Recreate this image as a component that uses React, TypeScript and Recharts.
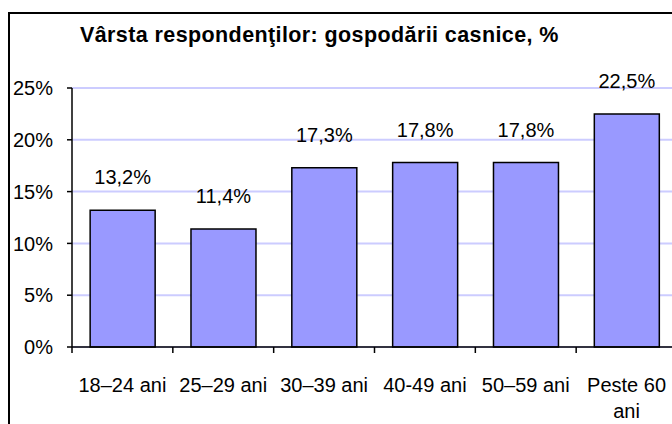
import React from "react";
import { BarChart, Bar, XAxis, YAxis, CartesianGrid, LabelList } from "recharts";

const categories = ["18–24 ani", "25–29 ani", "30–39 ani", "40-49 ani", "50–59 ani", "Peste 60 ani"];
const shares = [13.2, 11.4, 17.3, 17.8, 17.8, 22.5];
const yTicks = [0, 5, 10, 15, 20, 25];
const title = "Vârsta respondenţilor: gospodării casnice, %";

const data = categories.map((name, i) => ({ name, value: shares[i] }));

const CHART_W = 720;
const CHART_H = 440;
const MARGIN = { top: 88, right: 43, left: 0, bottom: 23 };
const Y_W = 72;
const X_H = 70;
const X_TICK_GAP = 30;
const FONT = "'Liberation Sans', Arial, sans-serif";
const MAX_CHARS = 10;

const band = (CHART_W - MARGIN.left - Y_W - MARGIN.right) / categories.length;

// long labels break before their last word, like the original
function splitLabel(s: string): string[] {
  if (s.length <= MAX_CHARS) return [s];
  const cut = s.lastIndexOf(" ");
  return [s.slice(0, cut), s.slice(cut + 1)];
}

function CategoryTick(props: any) {
  const { x, y, payload, index } = props;
  const axisY = y - X_TICK_GAP;
  const left = x - band / 2;
  const right = x + band / 2;
  const lines = splitLabel(String(payload.value));
  return (
    <g>
      <line x1={left} x2={left} y1={axisY} y2={axisY + 6} stroke="#000" strokeWidth={1.5} />
      {index === categories.length - 1 && (
        <line x1={right} x2={right} y1={axisY} y2={axisY + 6} stroke="#000" strokeWidth={1.5} />
      )}
      <text x={x} y={y} textAnchor="middle" fontSize={20} fontFamily={FONT} fill="#000">
        {lines.map((l, i) => (
          <tspan key={i} x={x} dy={i === 0 ? 15 : 26}>
            {l}
          </tspan>
        ))}
      </text>
    </g>
  );
}

export default function App() {
  return (
    <div
      style={{
        position: "fixed",
        left: 0,
        top: 0,
        width: 672,
        height: 424,
        overflow: "hidden",
        background: "#fff",
        fontFamily: FONT,
      }}
    >
      <div
        style={{
          position: "absolute",
          left: 8,
          top: 12,
          width: 800,
          height: 600,
          borderLeft: "2px solid #000",
          borderTop: "2px solid #000",
        }}
      />
      <div
        style={{
          position: "absolute",
          left: 80,
          top: 24,
          fontSize: 21.5,
          lineHeight: "22px",
          fontWeight: 700,
          letterSpacing: 0.4,
          whiteSpace: "nowrap",
          color: "#000",
        }}
      >
        {title}
      </div>
      <div style={{ position: "absolute", left: 0, top: 0 }}>
        <BarChart width={CHART_W} height={CHART_H} data={data} margin={MARGIN} barCategoryGap="18%">
          <CartesianGrid vertical={false} stroke="#ccccff" strokeWidth={2} />
          <XAxis
            dataKey="name"
            interval={0}
            height={X_H}
            tickLine={false}
            tickSize={0}
            tickMargin={X_TICK_GAP}
            axisLine={{ stroke: "#000", strokeWidth: 1.5 }}
            tick={<CategoryTick />}
          />
          <YAxis
            width={Y_W}
            domain={[0, 25]}
            ticks={yTicks}
            interval={0}
            tickFormatter={(v) => `${v}%`}
            tickSize={5}
            tickMargin={14}
            axisLine={{ stroke: "#000", strokeWidth: 1.5 }}
            tickLine={{ stroke: "#000", strokeWidth: 1.5 }}
            tick={{ fontSize: 20, fill: "#000", fontFamily: FONT }}
          />
          <Bar dataKey="value" fill="#9999ff" stroke="#000" strokeWidth={1.5} isAnimationActive={false}>
            <LabelList
              dataKey="value"
              position="top"
              offset={26}
              fontSize={20}
              fontFamily={FONT}
              fill="#000"
              formatter={(v: any) => `${String(v).replace(".", ",")}%`}
            />
          </Bar>
        </BarChart>
      </div>
    </div>
  );
}
